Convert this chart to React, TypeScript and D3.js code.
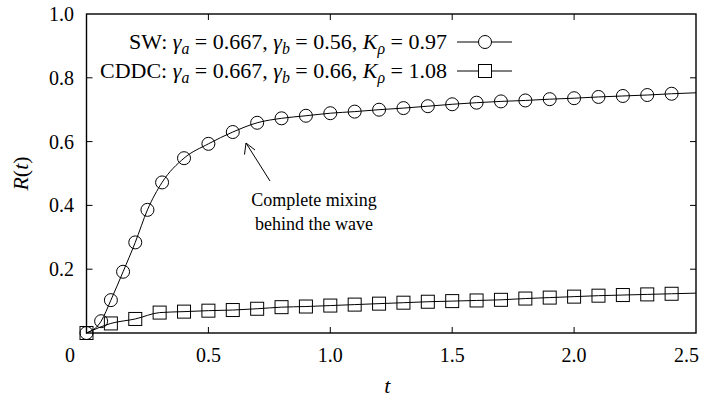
import React from "react";
import * as d3 from "d3";

const swT = [0, 0.06, 0.1, 0.15, 0.2, 0.25, 0.31, 0.4, 0.5, 0.6, 0.7, 0.8, 0.9, 1.0, 1.1, 1.2, 1.3, 1.4, 1.5, 1.6, 1.7, 1.8, 1.9, 2.0, 2.1, 2.2, 2.3, 2.4];
const swR = [0, 0.037, 0.103, 0.192, 0.284, 0.386, 0.472, 0.548, 0.593, 0.63, 0.659, 0.673, 0.681, 0.689, 0.694, 0.7, 0.705, 0.711, 0.717, 0.722, 0.726, 0.729, 0.733, 0.736, 0.74, 0.743, 0.746, 0.75];
const swEnd = [2.5, 0.753];

const cddcT = [0, 0.1, 0.2, 0.3, 0.4, 0.5, 0.6, 0.7, 0.8, 0.9, 1.0, 1.1, 1.2, 1.3, 1.4, 1.5, 1.6, 1.7, 1.8, 1.9, 2.0, 2.1, 2.2, 2.3, 2.4];
const cddcR = [0, 0.03, 0.044, 0.064, 0.067, 0.07, 0.072, 0.076, 0.081, 0.083, 0.086, 0.089, 0.092, 0.095, 0.098, 0.1, 0.102, 0.104, 0.108, 0.111, 0.114, 0.117, 0.119, 0.121, 0.123];
const cddcEnd = [2.5, 0.125];

const xTicks = [0.5, 1.0, 1.5, 2.0, 2.5];
const xTickLabels = ["0.5", "1.0", "1.5", "2.0", "2.5"];
const yTicks = [0.2, 0.4, 0.6, 0.8, 1.0];
const yTickLabels = ["0.2", "0.4", "0.6", "0.8", "1.0"];

const W = 708, H = 398;
const L = 86.5, R = 696, T = 14, B = 333;
const FONT = "'Liberation Serif', 'Times New Roman', serif";
const FS = 20;
const LFS = 22;

export default function App() {
  const x = d3.scaleLinear().domain([0, 2.5]).range([L, R]);
  const y = d3.scaleLinear().domain([0, 1]).range([B, T]);
  const line = d3.line<[number, number]>().x(d => x(d[0])).y(d => y(d[1])).curve(d3.curveMonotoneX);

  const swPts: [number, number][] = swT.map((t, i) => [t, swR[i]]);
  const cddcPts: [number, number][] = cddcT.map((t, i) => [t, cddcR[i]]);
  const swLine = line([...swPts, swEnd as [number, number]]) || "";
  const cddcLine = line([...cddcPts, cddcEnd as [number, number]]) || "";
  const tk = 6;
  const ms = 6.5;

  const legendX = 447;
  const sampleX1 = 457, sampleX2 = 512, sampleC = 485;
  const row1 = 42, row2 = 71;

  const sub = (s: string) => [
    <tspan key="a" dy={5} fontSize={LFS * 0.72} fontStyle="italic">{s}</tspan>,
    <tspan key="b" dy={-5}> </tspan>,
  ];

  return (
    <svg width={W} height={H} style={{ position: "absolute", left: 0, top: 0, background: "#fff" }} fontFamily={FONT}>
      <rect x={0} y={0} width={W} height={H} fill="#fff" />
      {xTicks.filter(v => v < 2.5).map(v => (
        <g key={"xt" + v} stroke="#000" strokeWidth={1}>
          <line x1={x(v)} x2={x(v)} y1={B} y2={B - tk} />
          <line x1={x(v)} x2={x(v)} y1={T} y2={T + tk} />
        </g>
      ))}
      {yTicks.filter(v => v < 1).map(v => (
        <g key={"yt" + v} stroke="#000" strokeWidth={1}>
          <line x1={L} x2={L + tk} y1={y(v)} y2={y(v)} />
          <line x1={R} x2={R - tk} y1={y(v)} y2={y(v)} />
        </g>
      ))}
      <rect x={L} y={T} width={R - L} height={B - T} fill="none" stroke="#000" strokeWidth={1.4} />
      {xTicks.map((v, i) => (
        <text key={"xl" + v} x={v === 2.5 ? x(v) + 3 : x(v)} y={362} textAnchor={v === 2.5 ? "end" : "middle"} fontSize={FS}>{xTickLabels[i]}</text>
      ))}
      <text x={70} y={362} textAnchor="middle" fontSize={FS}>0</text>
      {yTicks.map((v, i) => (
        <text key={"yl" + v} x={74} y={y(v) + 7} textAnchor="end" fontSize={FS}>{yTickLabels[i]}</text>
      ))}
      <text x={(L + R) / 2 - 4} y={393} textAnchor="middle" fontSize={FS + 2} fontStyle="italic">t</text>
      <text transform={`translate(28,${(T + B) / 2}) rotate(-90)`} textAnchor="middle" fontSize={FS + 2}>
        <tspan fontStyle="italic">R</tspan>(<tspan fontStyle="italic">t</tspan>)
      </text>
      <path d={swLine} fill="none" stroke="#000" strokeWidth={1} />
      <path d={cddcLine} fill="none" stroke="#000" strokeWidth={1} />
      {swPts.map((p, i) => (
        <circle key={"c" + i} cx={x(p[0])} cy={y(p[1])} r={ms} fill="none" stroke="#000" strokeWidth={1} />
      ))}
      {cddcPts.map((p, i) => (
        <rect key={"s" + i} x={x(p[0]) - ms} y={y(p[1]) - ms} width={ms * 2} height={ms * 2} fill="none" stroke="#000" strokeWidth={1} />
      ))}
      <text x={legendX} y={row1 + 7} textAnchor="end" fontSize={LFS}>
        SW: <tspan fontStyle="italic">γ</tspan>{sub("a")}= 0.667, <tspan fontStyle="italic">γ</tspan>{sub("b")}= 0.56, <tspan fontStyle="italic">K</tspan>{sub("ρ")}= 0.97
      </text>
      <line x1={sampleX1} x2={sampleX2} y1={row1} y2={row1} stroke="#000" strokeWidth={1} />
      <circle cx={sampleC} cy={row1} r={ms} fill="#fff" stroke="#000" strokeWidth={1} />
      <text x={legendX} y={row2 + 7} textAnchor="end" fontSize={LFS}>
        CDDC: <tspan fontStyle="italic">γ</tspan>{sub("a")}= 0.667, <tspan fontStyle="italic">γ</tspan>{sub("b")}= 0.66, <tspan fontStyle="italic">K</tspan>{sub("ρ")}= 1.08
      </text>
      <line x1={sampleX1} x2={sampleX2} y1={row2} y2={row2} stroke="#000" strokeWidth={1} />
      <rect x={sampleC - ms} y={row2 - ms} width={ms * 2} height={ms * 2} fill="#fff" stroke="#000" strokeWidth={1} />
      <line x1={270} y1={181} x2={246} y2={143} stroke="#000" strokeWidth={1} />
      <path d="M 244.5 154.5 L 246 143 L 255 150" fill="none" stroke="#000" strokeWidth={1} />
      <text x={314} y={206} textAnchor="middle" fontSize={18}>Complete mixing</text>
      <text x={314} y={230} textAnchor="middle" fontSize={18}>behind the wave</text>
    </svg>
  );
}
